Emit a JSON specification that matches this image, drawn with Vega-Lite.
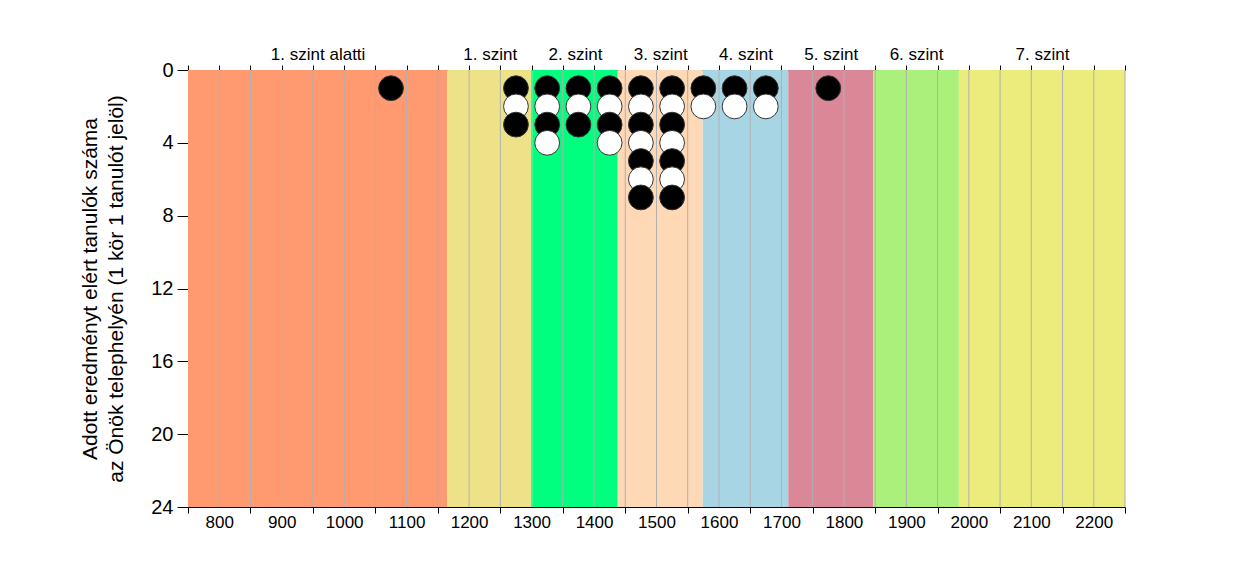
{
  "$schema": "https://vega.github.io/schema/vega-lite/v6.json",
  "width": 937,
  "height": 437,
  "autosize": {"type": "none"},
  "padding": {"left": 188, "top": 70, "right": 125, "bottom": 76},
  "background": "white",
  "config": {
    "font": "Liberation Sans",
    "view": {"stroke": null},
    "axis": {"grid": false, "domainColor": "black", "tickColor": "black", "labelColor": "black", "titleColor": "black"}
  },
  "datasets": {
    "szintek": [
      {"szint": "1. szint alatti", "tol": 750, "ig": 1165},
      {"szint": "1. szint", "tol": 1165, "ig": 1301},
      {"szint": "2. szint", "tol": 1301, "ig": 1438},
      {"szint": "3. szint", "tol": 1438, "ig": 1574},
      {"szint": "4. szint", "tol": 1574, "ig": 1711},
      {"szint": "5. szint", "tol": 1711, "ig": 1847},
      {"szint": "6. szint", "tol": 1847, "ig": 1984},
      {"szint": "7. szint", "tol": 1984, "ig": 2250}
    ],
    "racs": [
      {"g": 800}, {"g": 850}, {"g": 900}, {"g": 950}, {"g": 1000}, {"g": 1050}, {"g": 1100}, {"g": 1150},
      {"g": 1200}, {"g": 1250}, {"g": 1300}, {"g": 1350}, {"g": 1400}, {"g": 1450}, {"g": 1500}, {"g": 1550},
      {"g": 1600}, {"g": 1650}, {"g": 1700}, {"g": 1750}, {"g": 1800}, {"g": 1850}, {"g": 1900}, {"g": 1950},
      {"g": 2000}, {"g": 2050}, {"g": 2100}, {"g": 2150}, {"g": 2200}, {"g": 2250}
    ],
    "tanulok": [
      {"pont": 1075, "n": 1, "kor": "fekete"},
      {"pont": 1275, "n": 1, "kor": "fekete"},
      {"pont": 1275, "n": 2, "kor": "fehér"},
      {"pont": 1275, "n": 3, "kor": "fekete"},
      {"pont": 1325, "n": 1, "kor": "fekete"},
      {"pont": 1325, "n": 2, "kor": "fehér"},
      {"pont": 1325, "n": 3, "kor": "fekete"},
      {"pont": 1325, "n": 4, "kor": "fehér"},
      {"pont": 1375, "n": 1, "kor": "fekete"},
      {"pont": 1375, "n": 2, "kor": "fehér"},
      {"pont": 1375, "n": 3, "kor": "fekete"},
      {"pont": 1425, "n": 1, "kor": "fekete"},
      {"pont": 1425, "n": 2, "kor": "fehér"},
      {"pont": 1425, "n": 3, "kor": "fekete"},
      {"pont": 1425, "n": 4, "kor": "fehér"},
      {"pont": 1475, "n": 1, "kor": "fekete"},
      {"pont": 1475, "n": 2, "kor": "fehér"},
      {"pont": 1475, "n": 3, "kor": "fekete"},
      {"pont": 1475, "n": 4, "kor": "fehér"},
      {"pont": 1475, "n": 5, "kor": "fekete"},
      {"pont": 1475, "n": 6, "kor": "fehér"},
      {"pont": 1475, "n": 7, "kor": "fekete"},
      {"pont": 1525, "n": 1, "kor": "fekete"},
      {"pont": 1525, "n": 2, "kor": "fehér"},
      {"pont": 1525, "n": 3, "kor": "fekete"},
      {"pont": 1525, "n": 4, "kor": "fehér"},
      {"pont": 1525, "n": 5, "kor": "fekete"},
      {"pont": 1525, "n": 6, "kor": "fehér"},
      {"pont": 1525, "n": 7, "kor": "fekete"},
      {"pont": 1575, "n": 1, "kor": "fekete"},
      {"pont": 1575, "n": 2, "kor": "fehér"},
      {"pont": 1625, "n": 1, "kor": "fekete"},
      {"pont": 1625, "n": 2, "kor": "fehér"},
      {"pont": 1675, "n": 1, "kor": "fekete"},
      {"pont": 1675, "n": 2, "kor": "fehér"},
      {"pont": 1775, "n": 1, "kor": "fekete"}
    ]
  },
  "resolve": {"axis": {"x": "independent"}},
  "layer": [
    {
      "data": {"name": "szintek"},
      "mark": {"type": "rect", "strokeWidth": 0},
      "encoding": {
        "x": {
          "field": "tol", "type": "quantitative",
          "scale": {"domain": [750, 2250], "nice": false, "zero": false},
          "axis": {
            "orient": "top", "title": null, "domain": false, "ticks": false,
            "values": [957.5, 1233, 1369.5, 1506, 1642.5, 1779, 1915.5, 2117],
            "labelExpr": "datum.value < 1100 ? '1. szint alatti' : datum.value < 1300 ? '1. szint' : datum.value < 1400 ? '2. szint' : datum.value < 1550 ? '3. szint' : datum.value < 1700 ? '4. szint' : datum.value < 1800 ? '5. szint' : datum.value < 2000 ? '6. szint' : '7. szint'",
            "labelFontSize": 17, "labelPadding": 7, "labelOverlap": false, "labelBound": false, "labelFlush": false
          }
        },
        "x2": {"field": "ig"},
        "color": {
          "field": "szint", "type": "nominal", "legend": null,
          "scale": {
            "domain": ["1. szint alatti", "1. szint", "2. szint", "3. szint", "4. szint", "5. szint", "6. szint", "7. szint"],
            "range": ["#FF9A70", "#EEE288", "#00FF7F", "#FFD9B6", "#A8D5E4", "#DA8898", "#ABF07A", "#ECEC7C"]
          }
        }
      }
    },
    {
      "data": {"name": "racs"},
      "mark": {"type": "rule", "color": "#B0B0B0", "strokeWidth": 1},
      "encoding": {
        "x": {
          "field": "g", "type": "quantitative",
          "scale": {"domain": [750, 2250], "nice": false, "zero": false},
          "axis": {
            "orient": "top", "title": null, "labels": false, "ticks": true, "tickSize": 5, "domain": true,
            "values": [750, 800, 850, 900, 950, 1000, 1050, 1100, 1150, 1200, 1250, 1300, 1350, 1400, 1450, 1500, 1550, 1600, 1650, 1700, 1750, 1800, 1850, 1900, 1950, 2000, 2050, 2100, 2150, 2200, 2250]
          }
        }
      }
    },
    {
      "data": {"name": "tanulok"},
      "mark": {"type": "circle", "size": 615, "opacity": 1, "stroke": "#333333", "strokeWidth": 1},
      "encoding": {
        "x": {
          "field": "pont", "type": "quantitative",
          "scale": {"domain": [750, 2250], "nice": false, "zero": false},
          "axis": {
            "orient": "bottom", "title": null, "format": "d",
            "values": [750, 800, 850, 900, 950, 1000, 1050, 1100, 1150, 1200, 1250, 1300, 1350, 1400, 1450, 1500, 1550, 1600, 1650, 1700, 1750, 1800, 1850, 1900, 1950, 2000, 2050, 2100, 2150, 2200, 2250],
            "labelExpr": "datum.value % 100 === 0 ? datum.label : ''",
            "tickSize": 6,
            "tickColor": {"condition": {"test": "datum.value % 100 === 0", "value": "transparent"}, "value": "black"},
            "labelFontSize": 17, "labelPadding": 1, "labelOverlap": false, "labelBound": false, "labelFlush": false
          }
        },
        "y": {
          "field": "n", "type": "quantitative",
          "scale": {"domain": [0, 24], "reverse": true, "nice": false, "zero": true},
          "axis": {
            "values": [0, 4, 8, 12, 16, 20, 24], "tickSize": 11, "labelPadding": 4, "labelFontSize": 20,
            "title": ["Adott eredményt elért tanulók száma", "az Önök telephelyén (1 kör 1 tanulót jelöl)"],
            "titleFontSize": 21, "titleFontWeight": "normal", "titleLineHeight": 26, "titlePadding": 24,
            "labelFlush": false, "labelOverlap": false
          }
        },
        "fill": {
          "field": "kor", "type": "nominal", "legend": null,
          "scale": {"domain": ["fekete", "fehér"], "range": ["black", "white"]}
        }
      }
    }
  ]
}
